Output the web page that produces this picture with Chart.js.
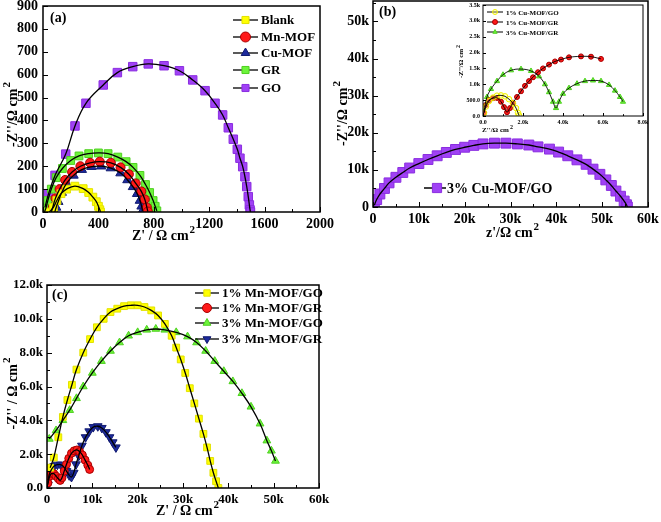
<!DOCTYPE html>
<html>
<head>
<meta charset="utf-8">
<script src="https://cdn.jsdelivr.net/npm/chart.js@4/dist/chart.umd.min.js"></script>
<style>
html, body { margin: 0; padding: 0; background: #fff; width: 661px; height: 522px; overflow: hidden; position: relative; }
canvas { position: absolute; left: 0; top: -20px; }
</style>
</head>
<body>
<canvas id="chartA" width="700" height="560"></canvas>
<canvas id="chartB" width="700" height="560"></canvas>
<canvas id="chartInset" width="700" height="560"></canvas>
<canvas id="chartC" width="700" height="560"></canvas>
<script>
// ---- panel (a): Z' and -Z'' in ohm cm2 ----
const blankX = [45, 75, 100, 130, 170, 230, 290, 330, 360, 385, 400, 410, 415];
const blankY = [0, 20, 50, 80, 100, 113, 102, 85, 65, 45, 25, 10, 0];
const mnX = [60, 70, 90, 120, 160, 210, 270, 340, 410, 490, 560, 620, 670, 710, 735, 750, 757];
const mnY = [0, 20, 60, 100, 140, 175, 200, 215, 220, 215, 195, 165, 125, 90, 55, 20, 2];
const cuX = [85, 95, 110, 135, 170, 220, 280, 350, 420, 490, 560, 610, 650, 680, 700, 712, 718];
const cuY = [0, 20, 45, 85, 125, 160, 185, 198, 200, 192, 170, 140, 110, 80, 50, 25, 5];
const grX = [10, 20, 35, 60, 95, 140, 200, 260, 330, 400, 470, 540, 600, 650, 700, 740, 770, 795, 810, 822];
const grY = [0, 15, 50, 100, 150, 190, 225, 245, 255, 258, 255, 240, 220, 195, 160, 120, 85, 50, 25, 5];
const goX = [14, 40, 87, 164, 231, 310, 435, 537, 648, 760, 874, 985, 1081, 1170, 1242, 1297, 1338, 1374, 1403, 1422, 1442, 1458, 1471, 1482, 1490, 1495, 1498];
const goY = [20, 80, 160, 253, 376, 475, 555, 609, 635, 647, 639, 617, 577, 530, 475, 424, 368, 318, 274, 235, 198, 154, 111, 67, 31, 9, 0];
const labelsA = ['Blank', 'Mn-MOF', 'Cu-MOF', 'GR', 'GO'];

// ---- panel (b): values in k ohm cm2 ----
const cuGoX = [0.3, 0.8, 1.5, 2.5, 3.5, 5, 6.5, 8, 10, 12, 14, 16, 18, 20, 22, 24, 26.5, 29, 31.5, 34, 36, 38.5, 40.5, 42.5, 44.5, 46.5, 48, 49.5, 50.8, 52, 53, 54, 54.8, 55.3, 55.5];
const cuGoY = [0.5, 2, 3.5, 5, 6.5, 8, 9.3, 10.5, 11.7, 12.8, 13.8, 14.7, 15.5, 16.1, 16.6, 17, 17.2, 17.2, 17, 16.7, 16.2, 15.6, 14.8, 13.8, 12.7, 11.5, 10.2, 8.8, 7.3, 5.8, 4.3, 2.9, 1.6, 0.6, 0];
const labelsB = ['3% Cu-MOF/GO'];

// ---- inset of (b): values in k ohm cm2 ----
const cu1GoX = [0.05, 0.15, 0.3, 0.5, 0.7, 0.9, 1.1, 1.3, 1.5, 1.65, 1.75, 1.8];
const cu1GoY = [0.1, 0.3, 0.47, 0.58, 0.64, 0.65, 0.62, 0.53, 0.4, 0.25, 0.1, 0.02];
const cu1GrX = [0.05, 0.15, 0.3, 0.5, 0.7, 0.9, 1.05, 1.2, 1.35, 1.5, 1.7, 1.9, 2.1, 2.3, 2.5, 2.75, 3.0, 3.3, 3.6, 3.9, 4.3, 4.9, 5.4, 5.9];
const cu1GrY = [0.1, 0.35, 0.5, 0.56, 0.57, 0.45, 0.28, 0.12, 0.25, 0.42, 0.6, 0.78, 0.95, 1.1, 1.22, 1.38, 1.5, 1.62, 1.72, 1.78, 1.85, 1.88, 1.87, 1.8];
const cu3GrX = [0.05, 0.2, 0.4, 0.7, 1.0, 1.4, 1.9, 2.4, 2.8, 3.1, 3.3, 3.5, 3.65, 3.8, 4.0, 4.3, 4.7, 5.1, 5.5, 5.9, 6.3, 6.6, 6.85, 7.0];
const cu3GrY = [0.15, 0.6, 0.85, 1.1, 1.3, 1.44, 1.48, 1.42, 1.25, 1.0, 0.75, 0.45, 0.25, 0.45, 0.7, 0.88, 1.02, 1.1, 1.12, 1.1, 0.98, 0.8, 0.6, 0.45];
const labelsInset = ['1% Cu-MOF/GO', '1% Cu-MOF/GR', '3% Cu-MOF/GR'];

// ---- panel (c): values in k ohm cm2 ----
const mn1GoX = [0.7, 1.5, 2.5, 3.5, 4.5, 5.5, 6.5, 8, 9.5, 11, 12.5, 14, 15.5, 17, 18.5, 20, 21.5, 23, 24.5, 26, 27.5, 28.5, 29.5, 30.5, 31.5, 32.5, 33.5, 34.5, 35.3, 36, 36.7, 37.3, 37.8];
const mn1GoY = [1.2, 1.8, 3.0, 4.2, 5.2, 6.1, 7.0, 8.0, 8.8, 9.5, 10.0, 10.4, 10.6, 10.75, 10.8, 10.8, 10.7, 10.5, 10.2, 9.7, 9.0, 8.3, 7.6, 6.8, 5.9, 5.0, 4.1, 3.2, 2.4, 1.6, 0.9, 0.4, 0];
const mn1GrX = [0.2, 0.6, 1.0, 1.5, 2.0, 2.5, 2.9, 3.3, 3.8, 4.3, 4.8, 5.4, 6.0, 6.6, 7.2, 7.8, 8.4, 9.0, 9.4];
const mn1GrY = [0.3, 0.7, 0.85, 0.85, 0.7, 0.55, 0.45, 0.6, 1.0, 1.4, 1.75, 2.05, 2.2, 2.25, 2.15, 1.95, 1.65, 1.35, 1.1];
const mn3GoX = [0.5, 2, 3.5, 5, 6.5, 8, 10, 12, 14, 16, 18, 20, 22, 24, 26, 28.5, 31, 33, 35, 37, 39, 41, 43, 45, 47, 48.5, 49.5, 50.4];
const mn3GoY = [2.9, 3.4, 4.0, 4.6, 5.3, 6.0, 6.8, 7.5, 8.1, 8.6, 9.0, 9.2, 9.35, 9.4, 9.35, 9.2, 8.95, 8.6, 8.1, 7.5, 6.9, 6.3, 5.6, 4.8, 3.8, 2.8, 2.2, 1.6];
const mn3GrX = [0.2, 0.5, 1.0, 1.6, 2.3, 3.0, 3.7, 4.3, 4.9, 5.4, 5.9, 6.4, 7.0, 7.7, 8.5, 9.3, 10.2, 11.2, 12.1, 13.0, 13.8, 14.5, 15.2];
const mn3GrY = [0.2, 0.8, 1.1, 1.3, 1.38, 1.38, 1.25, 1.0, 0.75, 0.65, 0.9, 1.4, 1.9, 2.5, 3.0, 3.35, 3.6, 3.65, 3.55, 3.3, 3.0, 2.7, 2.4];
const labelsC = ['1% Mn-MOF/GO', '1% Mn-MOF/GR', '3% Mn-MOF/GO', '3% Mn-MOF/GR'];

const OFF = 20;            // canvases sit 20px above the page top
const CW = 700, CH = 560;
const FONT = '"Liberation Serif", "Times New Roman", serif';

const YELLOW = {shape: 'rect', fill: '#ffff00', stroke: '#e2e200'};
const RED = {shape: 'circle', fill: '#ff1a1a', stroke: '#a80000'};
const BLUE = {shape: 'triangle', fill: '#1d2a9c', stroke: '#101a70'};
const GREEN = {shape: 'rect', fill: '#6cf43a', stroke: '#4fd020'};
const PURPLE = {shape: 'rect', fill: '#a041f5', stroke: '#8a2ee0'};

function pts(xs, ys) {
    return xs.map(function(x, i) { return {x: x, y: ys[i]}; });
}

function series(label, xs, ys, style, r, lw) {
    const data = pts(xs, ys);
    return [
        {
            label: label, data: data, showLine: false,
            pointStyle: style.shape, pointRadius: r, pointRotation: style.rot || 0,
            pointBackgroundColor: style.fill, pointBorderColor: style.stroke,
            pointBorderWidth: 1, order: 2
        },
        {
            label: '', data: data, showLine: true, pointRadius: 0,
            borderColor: '#000', borderWidth: lw, tension: 0.4, order: 1
        }
    ];
}

function marker(ctx, style, r, x, y) {
    ctx.fillStyle = style.fill;
    ctx.strokeStyle = style.stroke;
    ctx.lineWidth = 1;
    if (Chart.helpers && Chart.helpers.drawPoint) {
        Chart.helpers.drawPoint(ctx, {pointStyle: style.shape, radius: r, rotation: style.rot || 0, borderWidth: 1}, x, y);
        return;
    }
    ctx.beginPath();
    ctx.arc(x, y, r, 0, Math.PI * 2);
    ctx.fill();
    ctx.stroke();
}

function drawText(ctx, t) {
    const main = 'bold ' + t.size + 'px ' + FONT;
    const sup = 'bold ' + Math.round(t.size * 0.8) + 'px ' + FONT;
    ctx.save();
    ctx.translate(t.x, t.y + OFF);
    if (t.rot) ctx.rotate(-Math.PI / 2);
    ctx.fillStyle = '#000';
    ctx.textBaseline = 'alphabetic';
    ctx.textAlign = 'left';
    ctx.font = main;
    const w1 = ctx.measureText(t.text).width;
    ctx.font = sup;
    const w2 = t.sup ? ctx.measureText(t.sup).width : 0;
    const x0 = t.left ? 0 : -(w1 + w2) / 2;
    ctx.font = main;
    ctx.fillText(t.text, x0, 0);
    if (t.sup) {
        ctx.font = sup;
        ctx.fillText(t.sup, x0 + w1 + 1, -t.size * 0.5);
    }
    ctx.restore();
}

// frame, inward ticks, legend and titles
const decor = {
    id: 'decor',
    afterDraw: function(chart, args, o) {
        const ctx = chart.ctx;
        const a = chart.chartArea;
        const x = chart.scales.x, y = chart.scales.y;
        ctx.save();
        ctx.strokeStyle = '#000';
        ctx.lineWidth = o.lw;
        ctx.strokeRect(a.left, a.top, a.right - a.left, a.bottom - a.top);
        ctx.beginPath();
        let n = Math.round((o.xMax - o.xMin) / o.xMinor);
        for (let i = 0; i <= n; i++) {
            const v = o.xMin + i * o.xMinor;
            const major = Math.abs(v / o.xMajor - Math.round(v / o.xMajor)) < 1e-6;
            const px = Math.round(x.getPixelForValue(v)) + 0.5;
            ctx.moveTo(px, a.bottom);
            ctx.lineTo(px, a.bottom - (major ? o.tick : o.tick * 0.6));
        }
        n = Math.round((o.yMax - o.yMin) / o.yMinor);
        for (let i = 0; i <= n; i++) {
            const v = o.yMin + i * o.yMinor;
            const major = Math.abs(v / o.yMajor - Math.round(v / o.yMajor)) < 1e-6;
            const py = Math.round(y.getPixelForValue(v)) + 0.5;
            ctx.moveTo(a.left, py);
            ctx.lineTo(a.left + (major ? o.tick : o.tick * 0.6), py);
        }
        ctx.lineWidth = 1;
        ctx.stroke();

        const lg = o.legend;
        if (lg) {
            lg.items.forEach(function(it, i) {
                const ly = lg.ys[i] + OFF;
                ctx.beginPath();
                ctx.strokeStyle = '#000';
                ctx.lineWidth = lg.lw;
                ctx.moveTo(lg.x1, ly);
                ctx.lineTo(lg.x2, ly);
                ctx.stroke();
                marker(ctx, it.style, lg.r, lg.mx || (lg.x1 + lg.x2) / 2, ly);
                ctx.fillStyle = '#000';
                ctx.font = 'bold ' + lg.size + 'px ' + FONT;
                ctx.textBaseline = 'middle';
                ctx.textAlign = 'left';
                ctx.fillText(it.label, lg.tx, ly + 1);
            });
        }
        (o.texts || []).forEach(function(t) { drawText(ctx, t); });
        ctx.restore();
    }
};

function makeChart(id, p, datasets) {
    return new Chart(document.getElementById(id), {
        type: 'scatter',
        data: {datasets: datasets},
        plugins: [decor],
        options: {
            responsive: false,
            animation: false,
            events: [],
            layout: {
                padding: {
                    left: p.l - p.yw,
                    top: p.t + OFF,
                    right: CW - p.r,
                    bottom: CH - (p.b + OFF) - p.xh
                }
            },
            plugins: {
                legend: {display: false},
                tooltip: {enabled: false},
                decor: p.decor
            },
            scales: {
                x: {
                    type: 'linear', min: p.xMin, max: p.xMax,
                    grid: {display: false, drawTicks: false, tickLength: 0},
                    border: {display: false},
                    ticks: {
                        stepSize: p.xStep, color: '#000', padding: p.xPad,
                        font: {family: FONT, size: p.font, weight: 'bold'},
                        maxRotation: 0, autoSkip: false, callback: p.xFmt
                    },
                    afterBuildTicks: function(s) {
                        s.ticks = s.ticks.filter(function(t) {
                            return Math.abs(t.value / p.xStep - Math.round(t.value / p.xStep)) < 1e-6;
                        });
                    },
                    afterFit: function(s) { s.height = p.xh; }
                },
                y: {
                    type: 'linear', min: p.yMin, max: p.yMax,
                    grid: {display: false, drawTicks: false, tickLength: 0},
                    border: {display: false},
                    ticks: {
                        stepSize: p.yStep, color: '#000', padding: p.yPad,
                        font: {family: FONT, size: p.font, weight: 'bold'},
                        autoSkip: false, callback: p.yFmt
                    },
                    afterBuildTicks: function(s) {
                        s.ticks = s.ticks.filter(function(t) {
                            return Math.abs(t.value / p.yStep - Math.round(t.value / p.yStep)) < 1e-6;
                        });
                    },
                    afterFit: function(s) { s.width = p.yw; }
                }
            }
        }
    });
}

function fmtK(v) { return v === 0 ? '0' : v + 'k'; }
function fmtK1(v) { return v === 0 ? '0.0' : v.toFixed(1) + 'k'; }
function fmtInsetY(v) { return v < 1 ? (v * 1000).toFixed(1) : v.toFixed(1) + 'k'; }

const stylesA = [YELLOW, RED, BLUE, GREEN, PURPLE];
const radiiA = [5.5, 4.5, 5.5, 5.5, 6];
const dataA = [[blankX, blankY], [mnX, mnY], [cuX, cuY], [grX, grY], [goX, goY]];
let setsA = [];
dataA.forEach(function(d, i) {
    setsA = setsA.concat(series(labelsA[i], d[0], d[1], stylesA[i], radiiA[i], 1.3));
});

makeChart('chartA', {
    l: 43, t: 6, r: 320, b: 212, yw: 43, xh: 30, font: 14, xPad: 4, yPad: 5,
    xMin: 0, xMax: 2000, xStep: 400, yMin: 0, yMax: 900, yStep: 100,
    xFmt: function(v) { return String(v); }, yFmt: function(v) { return String(v); },
    decor: {
        lw: 1.5, tick: 5, xMin: 0, xMax: 2000, xMajor: 400, xMinor: 200,
        yMin: 0, yMax: 900, yMajor: 100, yMinor: 100,
        legend: {
            x1: 233, x2: 258, tx: 261, r: 5, lw: 1.3, size: 13,
            ys: [20, 37, 53, 70, 88],
            items: labelsA.map(function(l, i) { return {label: l, style: stylesA[i]}; })
        },
        texts: [
            {text: '(a)', x: 50, y: 22, size: 14, left: true},
            {text: "Z' / \u03a9 cm", sup: '2', x: 163, y: 240, size: 14},
            {text: "-Z''/\u03a9 cm", sup: '2', x: 17, y: 115, size: 14, rot: true}
        ]
    }
}, setsA);

makeChart('chartB', {
    l: 373, t: 1, r: 648, b: 207, yw: 43, xh: 30, font: 14, xPad: 4, yPad: 4,
    xMin: 0, xMax: 60, xStep: 10, yMin: 0, yMax: 55.5, yStep: 10,
    xFmt: fmtK, yFmt: fmtK,
    decor: {
        lw: 1.5, tick: 5, xMin: 0, xMax: 60, xMajor: 10, xMinor: 5,
        yMin: 0, yMax: 55, yMajor: 10, yMinor: 5,
        legend: {
            x1: 424, x2: 446, mx: 437, tx: 447, r: 6.5, lw: 1.5, size: 14,
            ys: [188],
            items: [{label: labelsB[0], style: PURPLE}]
        },
        texts: [
            {text: '(b)', x: 379, y: 16, size: 14, left: true},
            {text: "z'/\u03a9 cm", sup: '2', x: 512, y: 237, size: 14},
            {text: "-Z''/\u03a9 cm", sup: '2', x: 347, y: 114, size: 14, rot: true}
        ]
    }
}, series(labelsB[0], cuGoX, cuGoY, PURPLE, 7, 1.3));

const HOLLOW_YELLOW = {shape: 'circle', fill: 'rgba(255,255,120,0.35)', stroke: '#f0f000'};
const stylesIn = [HOLLOW_YELLOW, RED, {shape: 'triangle', fill: '#6cf43a', stroke: '#4fd020'}];
const dataIn = [[cu1GoX, cu1GoY], [cu1GrX, cu1GrY], [cu3GrX, cu3GrY]];
const radiiIn = [2.8, 2.5, 3];
let setsIn = [];
dataIn.forEach(function(d, i) {
    setsIn = setsIn.concat(series(labelsInset[i], d[0], d[1], stylesIn[i], radiiIn[i], 0.9));
});

makeChart('chartInset', {
    l: 483, t: 5, r: 643, b: 116, yw: 25, xh: 12, font: 6, xPad: 3, yPad: 3,
    xMin: 0, xMax: 8, xStep: 2, yMin: 0, yMax: 3.5, yStep: 0.5,
    xFmt: fmtK1, yFmt: fmtInsetY,
    decor: {
        lw: 1, tick: 3, xMin: 0, xMax: 8, xMajor: 2, xMinor: 1,
        yMin: 0, yMax: 3.5, yMajor: 0.5, yMinor: 0.5,
        legend: {
            x1: 487, x2: 503, tx: 506, r: 2.5, lw: 1, size: 7,
            ys: [12, 22, 32],
            items: labelsInset.map(function(l, i) { return {label: l, style: stylesIn[i]}; })
        },
        texts: [
            {text: "Z''/\u03a9 cm", sup: '2', x: 497, y: 132, size: 7},
            {text: "-Z''/\u03a9 cm", sup: '2', x: 463, y: 62, size: 7, rot: true}
        ]
    }
}, setsIn);

const INV_BLUE = {shape: 'triangle', fill: '#1d2a9c', stroke: '#101a70', rot: 180};
const GREEN_TRI = {shape: 'triangle', fill: '#6cf43a', stroke: '#4fd020'};
const stylesC = [YELLOW, RED, GREEN_TRI, INV_BLUE];
const dataC = [[mn1GoX, mn1GoY], [mn1GrX, mn1GrY], [mn3GoX, mn3GoY], [mn3GrX, mn3GrY]];
const radiiC = [4.8, 4, 4.5, 5];
let setsC = [];
dataC.forEach(function(d, i) {
    setsC = setsC.concat(series(labelsC[i], d[0], d[1], stylesC[i], radiiC[i], 1.3));
});

makeChart('chartC', {
    l: 47, t: 285, r: 319, b: 488, yw: 47, xh: 20, font: 13, xPad: 4, yPad: 4,
    xMin: 0, xMax: 60, xStep: 10, yMin: 0, yMax: 12, yStep: 2,
    xFmt: fmtK, yFmt: fmtK1,
    decor: {
        lw: 1.5, tick: 5, xMin: 0, xMax: 60, xMajor: 10, xMinor: 5,
        yMin: 0, yMax: 12, yMajor: 2, yMinor: 1,
        legend: {
            x1: 195, x2: 219, tx: 222, r: 4.5, lw: 1.3, size: 13,
            ys: [293, 308, 323, 339],
            items: labelsC.map(function(l, i) { return {label: l, style: stylesC[i]}; })
        },
        texts: [
            {text: '(c)', x: 52, y: 299, size: 14, left: true},
            {text: "Z' / \u03a9 cm", sup: '2', x: 187, y: 515, size: 14},
            {text: "-Z'' / \u03a9 cm", sup: '2', x: 17, y: 394, size: 14, rot: true}
        ]
    }
}, setsC);
</script>
</body>
</html>
